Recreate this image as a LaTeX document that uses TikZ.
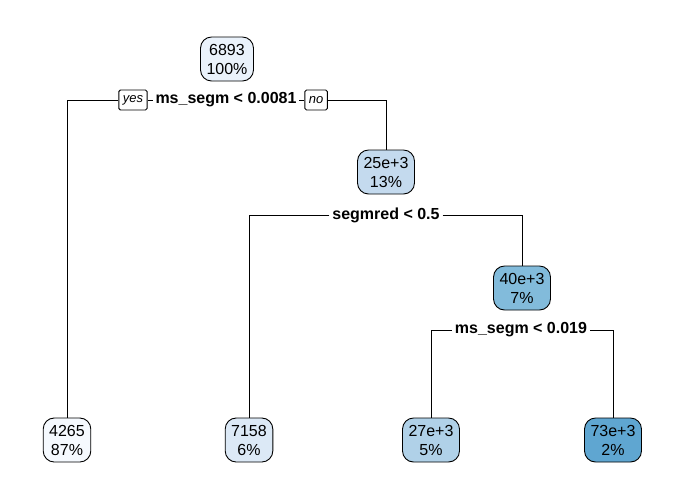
\documentclass[tikz,border=0pt]{standalone}
\usepackage{fontspec}
\setmainfont{Liberation Sans}
\usetikzlibrary{positioning}
\definecolor{cRoot}{HTML}{EAF2FB}
\definecolor{cA}{HTML}{F5F9FE}
\definecolor{cB}{HTML}{DCE9F6}
\definecolor{cC}{HTML}{C4DAEE}
\definecolor{cD}{HTML}{B0D1E8}
\definecolor{cE}{HTML}{82BBDB}
\definecolor{cF}{HTML}{5FA6D1}
\begin{document}
\begin{tikzpicture}[x=1pt,y=-1pt,line width=0.9pt,
  box/.style={draw,rounded corners=11pt,align=center,inner xsep=6pt,
    minimum height=44pt,font=\fontsize{16}{19}\selectfont},
  split/.style={font=\bfseries\fontsize{16}{18}\selectfont,inner sep=2.5pt},
  yesno/.style={draw,rounded corners=1.5pt,font=\itshape\fontsize{13}{15}\selectfont,
    inner xsep=4pt,minimum height=20pt,inner ysep=0pt}]
  \useasboundingbox (0,0) rectangle (685,498);
  % tree nodes
  \node[box,fill=cRoot] (root) at (227,59) {6893\\100\%};
  \node[box,fill=cC] (n25) at (386,172) {25e+3\\13\%};
  \node[box,fill=cE] (n40) at (522,288) {40e+3\\7\%};
  \node[box,fill=cA] (n4265) at (67,440) {4265\\87\%};
  \node[box,fill=cB] (n7158) at (249,440) {7158\\6\%};
  \node[box,fill=cD] (n27) at (431,440) {27e+3\\5\%};
  \node[box,fill=cF] (n73) at (613,440) {73e+3\\2\%};
  % split labels
  \node[split] (s1) at (226,100) {ms\_segm < 0.0081};
  \node[yesno,left=5pt of s1] (yes) {yes};
  \node[yesno,right=5pt of s1] (no) {no};
  \node[split] (s2) at (386,215) {segmred < 0.5};
  \node[split] (s3) at (521,330) {ms\_segm < 0.019};
  % branches
  \draw (s1.west) -- (yes.east);
  \draw (s1.east) -- (no.west);
  \draw (yes.west) -| (n4265.north);
  \draw (no.east) -| (n25.north);
  \draw (s2.west) -| (n7158.north);
  \draw (s2.east) -| (n40.north);
  \draw (s3.west) -| (n27.north);
  \draw (s3.east) -| (n73.north);
\end{tikzpicture}
\end{document}
